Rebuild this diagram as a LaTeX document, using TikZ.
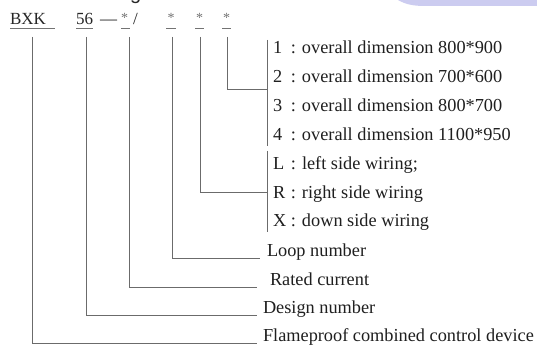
\documentclass[tikz,border=0pt]{standalone}
\usepackage{fontspec}
\setmainfont{Liberation Serif}
\newfontfamily\hdsans{Liberation Sans}
\begin{document}
\begin{tikzpicture}[x=1pt,y=-1pt,
  conn/.style={draw=black!58,line width=0.9pt},
  uline/.style={draw=black!55,line width=0.9pt},
  toptxt/.style={anchor=base west,inner sep=0pt,outer sep=0pt,font=\fontsize{17}{17}\selectfont,text=black!85},
  startxt/.style={anchor=base west,inner sep=0pt,outer sep=0pt,font=\fontsize{14}{14}\selectfont,text=black!55},
  desc/.style={anchor=base west,inner sep=0pt,outer sep=0pt,font=\fontsize{18.3}{18.3}\selectfont,text=black!88}]
\useasboundingbox (0,0) rectangle (537,347);
\fill[white] (0,0) rectangle (537,347);
% lavender band at top right
\fill[color={rgb,255:red,204;green,204;blue,240}] (398,0) .. controls (405,4) and (412,6) .. (425,6) -- (537,6) -- (537,0) -- cycle;
% cut-off glyph at top
\begin{scope}
\clip (120,0) rectangle (160,9);
\node[anchor=base west,inner sep=0pt,font=\hdsans\fontsize{20}{20}\selectfont,text=black!85] (gcut) at (130,0) {g};
\end{scope}
% top row
\node[toptxt] (bxk) at (10,25) {BXK};
\node[toptxt] (n56) at (76,25) {56};
\node[toptxt] (dash) at (100,25) {—};
\node[startxt] (s1) at (121,23) {*};
\node[toptxt] (slash) at (133,25) {/};
\node[startxt] (s2) at (167.5,23) {*};
\node[startxt] (s3) at (196,23) {*};
\node[startxt] (s4) at (223,23) {*};
% underlines
\draw[uline] (10,28) -- (55,28);
\draw[uline] (76,28) -- (93,28);
\draw[uline] (121,28) -- (130,28);
\draw[uline] (166,28) -- (176,28);
\draw[uline] (195,28) -- (204,28);
\draw[uline] (222,28) -- (231,28);
% description texts
\newcommand{\lblrow}[2]{\makebox[29pt][l]{\makebox[18pt][l]{#1}:}#2}
\node[desc] (d1) at (273,54) {\lblrow{1}{overall dimension 800*900}};
\node[desc] (d2) at (273,83) {\lblrow{2}{overall dimension 700*600}};
\node[desc] (d3) at (273,112) {\lblrow{3}{overall dimension 800*700}};
\node[desc] (d4) at (273,141) {\lblrow{4}{overall dimension 1100*950}};
\node[desc] (wl) at (273,170) {\lblrow{L}{left side wiring;}};
\node[desc] (wr) at (273,198) {\lblrow{R}{right side wiring}};
\node[desc] (wx) at (273,226) {\lblrow{X}{down side wiring}};
\node[desc] (loop) at (267,256) {Loop number};
\node[desc] (rated) at (270,285) {Rated current};
\node[desc] (design) at (263,313) {Design number};
\node[desc] (flame) at (263,341) {Flameproof combined control device};
% coordinates for connectors
\coordinate (b1top) at (267,40);
\coordinate (b1bot) at (267,146);
\coordinate (b1mid) at (267,89);
\coordinate (b2top) at (267,151);
\coordinate (b2bot) at (267,232);
\coordinate (b2mid) at (267,192);
\coordinate (s4a) at (227,37);
\coordinate (s3a) at (200.5,37);
\coordinate (s2a) at (172,37);
\coordinate (s1a) at (129,37);
\coordinate (n56a) at (86,37);
\coordinate (bxka) at (32,37);
% brackets
\draw[conn] (b1top) -- (b1bot);
\draw[conn] (b2top) -- (b2bot);
% connectors
\draw[conn] (s4a) |- (b1mid);
\draw[conn] (s3a) |- (b2mid);
\draw[conn] (s2a) |- ([xshift=-7pt,yshift=-2pt]loop.base west);
\draw[conn] (s1a) |- ([xshift=-13pt,yshift=-2pt]rated.base west);
\draw[conn] (n56a) |- ([xshift=-6pt,yshift=-2pt]design.base west);
\draw[conn] (bxka) |- ([xshift=-6pt,yshift=-2pt]flame.base west);
\end{tikzpicture}
\end{document}
